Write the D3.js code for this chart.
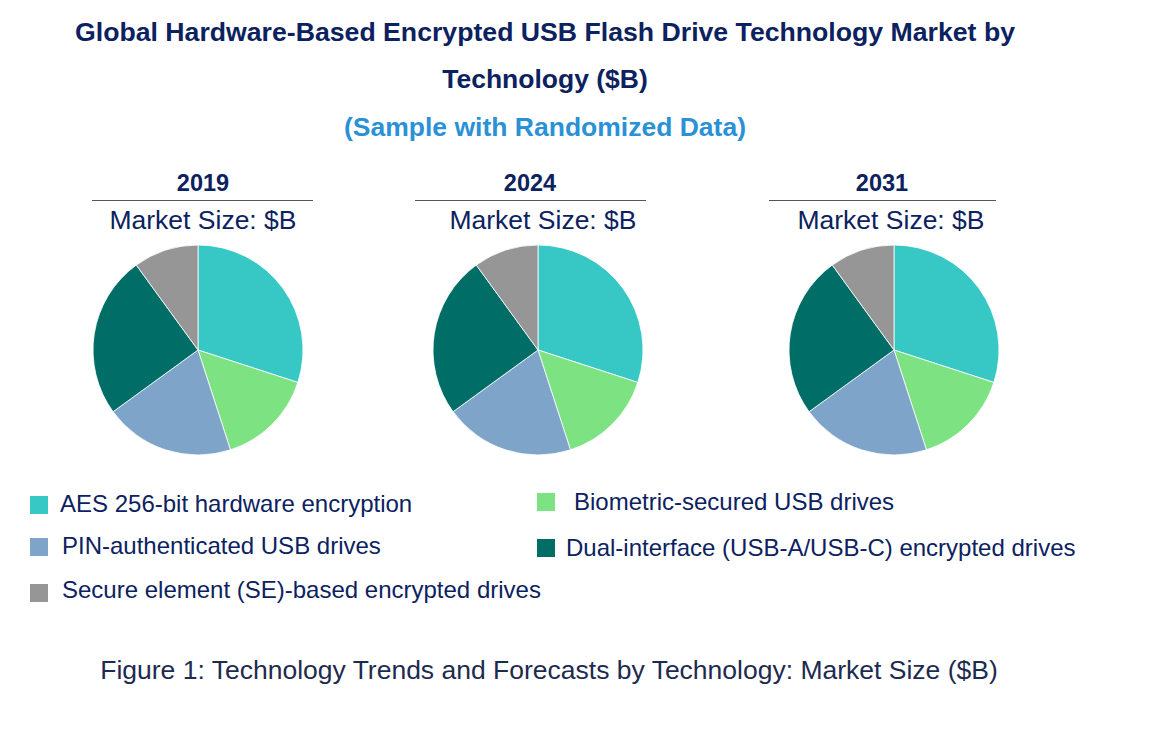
<!DOCTYPE html>
<html>
<head>
<meta charset="utf-8">
<script src="https://cdn.jsdelivr.net/npm/d3@7"></script>
<style>
  body { margin: 0; background: #fff; }
  text { font-family: "Liberation Sans", Arial, sans-serif; }
</style>
</head>
<body>
<svg width="1170" height="734"></svg>
<script>
var svg = d3.select("svg");

var technologies = [
    "AES 256-bit hardware encryption",
    "Biometric-secured USB drives",
    "PIN-authenticated USB drives",
    "Dual-interface (USB-A/USB-C) encrypted drives",
    "Secure element (SE)-based encrypted drives"
];
var years = ["2019", "2024", "2031"];
// share of market (%) per technology
var share2019 = [30, 15, 20, 25, 10];
var share2024 = [30, 15, 20, 25, 10];
var share2031 = [30, 15, 20, 25, 10];
var colors = ["#37c8c5", "#7ce282", "#7fa4c9", "#006e67", "#969696"];

var navy = "#0c2260";

// titles
svg.append("text").attr("x", 545).attr("y", 41).attr("text-anchor", "middle")
    .style("font-size", "26.5px").style("font-weight", "bold").style("fill", navy)
    .attr("textLength", 940).attr("lengthAdjust", "spacingAndGlyphs")
    .text("Global Hardware-Based Encrypted USB Flash Drive Technology Market by");
svg.append("text").attr("x", 545).attr("y", 88).attr("text-anchor", "middle")
    .style("font-size", "26.5px").style("font-weight", "bold").style("fill", navy)
    .text("Technology ($B)");
svg.append("text").attr("x", 545).attr("y", 136).attr("text-anchor", "middle")
    .style("font-size", "26.5px").style("font-weight", "bold").style("fill", "#2b91d6")
    .text("(Sample with Randomized Data)");

var panels = [
    {year: years[0], data: share2019, cx: 198, yearX: 203, lineX: [92, 313], labelX: 203},
    {year: years[1], data: share2024, cx: 538, yearX: 530, lineX: [415, 646], labelX: 543},
    {year: years[2], data: share2031, cx: 894, yearX: 882, lineX: [769, 996], labelX: 891}
];

var pie = d3.pie().sort(null);
var arc = d3.arc().innerRadius(0).outerRadius(105);

panels.forEach(function (p) {
    svg.append("text").attr("x", p.yearX).attr("y", 191).attr("text-anchor", "middle")
        .style("font-size", "23.5px").style("font-weight", "bold").style("fill", navy)
        .text(p.year);
    svg.append("line").attr("x1", p.lineX[0]).attr("x2", p.lineX[1])
        .attr("y1", 200.5).attr("y2", 200.5)
        .style("stroke", "#555").style("stroke-width", 1.2);
    svg.append("text").attr("x", p.labelX).attr("y", 229).attr("text-anchor", "middle")
        .style("font-size", "26.5px").style("fill", navy)
        .text("Market Size: $B");

    var g = svg.append("g").attr("transform", "translate(" + p.cx + ",350)");
    g.selectAll("path")
        .data(pie(p.data))
        .enter().append("path")
        .attr("d", arc)
        .style("fill", function (d, i) { return colors[i]; })
        .style("stroke", "#fff")
        .style("stroke-width", 0.8);
});

// legend
var legendPos = [
    {sx: 30, sy: 496, tx: 60, ty: 512},
    {sx: 537, sy: 493, tx: 574, ty: 510},
    {sx: 30, sy: 538, tx: 62, ty: 554},
    {sx: 537, sy: 539, tx: 566, ty: 556},
    {sx: 30, sy: 584, tx: 62, ty: 598}
];
technologies.forEach(function (t, i) {
    var lp = legendPos[i];
    svg.append("rect").attr("x", lp.sx).attr("y", lp.sy).attr("width", 18).attr("height", 18)
        .style("fill", colors[i]);
    svg.append("text").attr("x", lp.tx).attr("y", lp.ty)
        .style("font-size", "24px").style("fill", navy)
        .text(t);
});

svg.append("text").attr("x", 549).attr("y", 679).attr("text-anchor", "middle")
    .style("font-size", "26.5px").style("fill", "#1d2b4f")
    .text("Figure 1: Technology Trends and Forecasts by Technology: Market Size ($B)");
</script>
</body>
</html>
